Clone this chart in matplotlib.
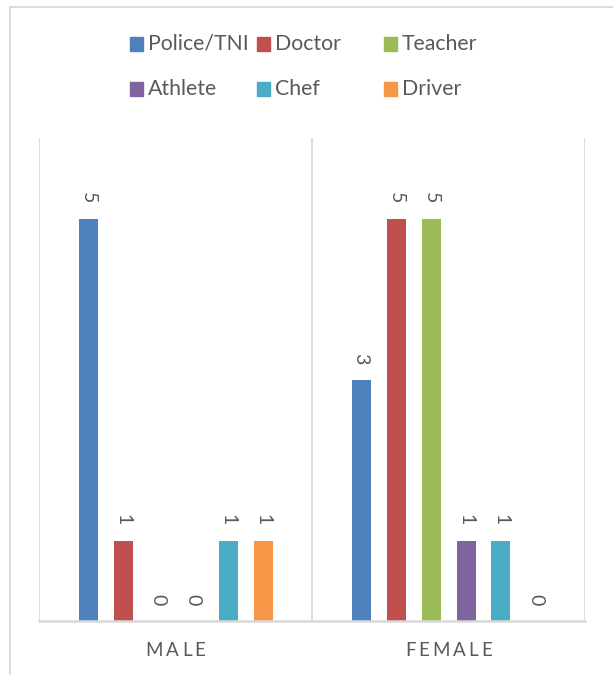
import matplotlib
matplotlib.use("Agg")
import matplotlib.pyplot as plt
from matplotlib.patches import Rectangle
from matplotlib.lines import Line2D
import numpy as np

plt.rcParams['font.family'] = ['Lato', 'DejaVu Sans']

categories = ["MALE", "FEMALE"]
series = ["Police/TNI", "Doctor", "Teacher", "Athlete", "Chef", "Driver"]
values = {
    "Police/TNI": [5, 3],
    "Doctor": [1, 5],
    "Teacher": [0, 5],
    "Athlete": [0, 1],
    "Chef": [1, 1],
    "Driver": [1, 0],
}
colors = ["#4F81BD", "#C0504D", "#9BBB59", "#8064A2", "#4BACC6", "#F79646"]

text_color = "#595959"
line_color = "#D9D9D9"

W, H = 613, 675
fig = plt.figure(figsize=(W / 100, H / 100), dpi=100)

# plot area in pixel coordinates
px_left, px_right, px_top, px_bottom = 39, 585, 138, 621
ax = fig.add_axes([px_left / W, 1 - px_bottom / H,
                   (px_right - px_left) / W, (px_bottom - px_top) / H])

x = np.arange(len(categories))
pitch = 35 / 273
width = 19 / 273
n = len(series)
for i, (name, col) in enumerate(zip(series, colors)):
    offs = (i - (n - 1) / 2) * pitch
    ax.bar(x + offs, values[name], width=width, color=col, zorder=3)
    for xi, v in zip(x + offs, values[name]):
        ax.annotate(f"{v}", xy=(xi, v), xytext=(0, 15), textcoords="offset points",
                    ha="center", va="center", rotation=270, fontsize=14,
                    color=text_color)

ax.set_xlim(-0.5, 1.5)
ax.set_ylim(0, 6)
for s in ax.spines.values():
    s.set_visible(False)
ax.set_xticks([])
ax.set_yticks([])
ax.patch.set_alpha(0)

# category separators and baseline
for xv in [-0.5, 0.5, 1.5]:
    ax.axvline(xv, color=line_color, lw=1.3, zorder=1)
ax.axhline(0, color=line_color, lw=1.8, zorder=4, clip_on=False)

# letter-spaced category labels
fig.canvas.draw()
renderer = fig.canvas.get_renderer()
extra = 3.0  # extra pixels between letters
for ci, cat in enumerate(categories):
    widths = []
    for ch in cat:
        t = fig.text(0, 0, ch, fontsize=13.5)
        widths.append(t.get_window_extent(renderer).width)
        t.remove()
    total = sum(widths) + extra * (len(cat) - 1)
    cx_px = ax.transData.transform((ci, 0))[0]
    start = cx_px - total / 2
    for ch, w in zip(cat, widths):
        fig.text(start / W, 1 - 650 / H, ch, fontsize=13.5, color=text_color,
                 ha="left", va="center")
        start += w + extra

# legend: three columns, two rows
col_x = [130, 257, 384]
row_y = [44, 89]
sq = 13
for i, (name, col) in enumerate(zip(series, colors)):
    r, c = divmod(i, 3)
    mx, my = col_x[c], row_y[r]
    fig.patches.append(Rectangle((mx / W, 1 - (my + sq / 2) / H), sq / W, sq / H,
                                 transform=fig.transFigure, color=col))
    fig.text((mx + sq + 5) / W, 1 - my / H, name, fontsize=15.3, color=text_color,
             ha="left", va="center")

# chart border (left and top edges)
fig.lines.append(Line2D([9.5 / W, 9.5 / W], [0, 1 - 7 / H], transform=fig.transFigure,
                        color=line_color, lw=1.3))
fig.lines.append(Line2D([9.5 / W, 1], [1 - 7 / H, 1 - 7 / H], transform=fig.transFigure,
                        color=line_color, lw=1.3))

fig.savefig("out.png", dpi=100)
